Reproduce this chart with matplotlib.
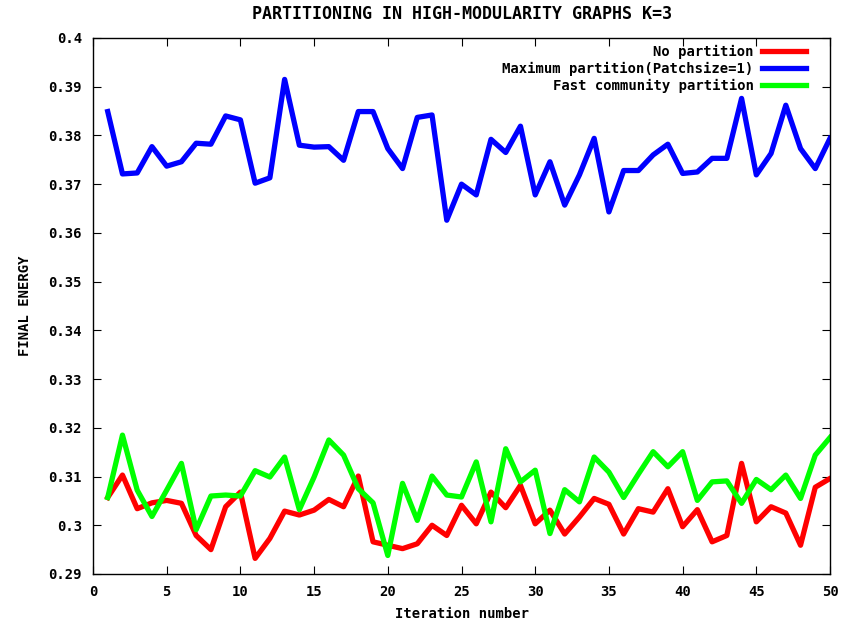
import numpy as np
import matplotlib
matplotlib.use('Agg')
import matplotlib.pyplot as plt
from matplotlib.ticker import FuncFormatter

# --- Data ---
iterations = np.arange(1, 51)

no_partition = [0.3057, 0.3103, 0.3034, 0.3046, 0.3051, 0.3045, 0.2979, 0.2950, 0.3038, 0.3068,
                0.2932, 0.2973, 0.3029, 0.3021, 0.3031, 0.3053, 0.3038, 0.3101, 0.2966, 0.2959,
                0.2952, 0.2962, 0.3000, 0.2979, 0.3041, 0.3003, 0.3068, 0.3036, 0.3082, 0.3003,
                0.3031, 0.2982, 0.3017, 0.3055, 0.3043, 0.2982, 0.3034, 0.3027, 0.3075, 0.2997,
                0.3032, 0.2966, 0.2979, 0.3127, 0.3007, 0.3038, 0.3025, 0.2959, 0.3078, 0.3096]

max_partition = [0.3849, 0.3721, 0.3723, 0.3777, 0.3737, 0.3746, 0.3784, 0.3782, 0.3840, 0.3832,
                 0.3702, 0.3713, 0.3915, 0.3780, 0.3776, 0.3777, 0.3749, 0.3849, 0.3849, 0.3773,
                 0.3732, 0.3837, 0.3842, 0.3626, 0.3700, 0.3678, 0.3792, 0.3765, 0.3819, 0.3678,
                 0.3746, 0.3657, 0.3719, 0.3794, 0.3643, 0.3728, 0.3728, 0.3760, 0.3782, 0.3722,
                 0.3725, 0.3753, 0.3753, 0.3876, 0.3719, 0.3763, 0.3862, 0.3773, 0.3732, 0.3794]

fast_community = [0.3057, 0.3185, 0.3072, 0.3018, 0.3072, 0.3127, 0.2991, 0.3060, 0.3062, 0.3060,
                  0.3112, 0.3099, 0.3140, 0.3032, 0.3099, 0.3175, 0.3144, 0.3075, 0.3046, 0.2938,
                  0.3086, 0.3010, 0.3101, 0.3062, 0.3058, 0.3130, 0.3007, 0.3157, 0.3089, 0.3113,
                  0.2983, 0.3073, 0.3048, 0.3140, 0.3109, 0.3057, 0.3105, 0.3151, 0.3120, 0.3151,
                  0.3051, 0.3089, 0.3091, 0.3045, 0.3094, 0.3073, 0.3103, 0.3055, 0.3144, 0.3180]

font = {'family': 'DejaVu Sans Mono', 'weight': 'bold', 'size': 10}
plt.rc('font', **font)
plt.rc('axes', titleweight='bold', labelweight='bold')

fig = plt.figure(figsize=(8.43, 6.32), dpi=100)
ax = fig.add_axes([0.1103, 0.0918, 0.8743, 0.8481])

ax.plot(iterations, no_partition, color='#ff0000', linewidth=3.8, label='No partition')
ax.plot(iterations, max_partition, color='#0000ff', linewidth=3.8, label='Maximum partition(Patchsize=1)')
ax.plot(iterations, fast_community, color='#00ff00', linewidth=3.8, label='Fast community partition')

ax.set_xlim(0, 50)
ax.set_ylim(0.29, 0.4)
ax.set_xticks(np.arange(0, 51, 5))
ax.set_yticks(np.arange(0.29, 0.4001, 0.01))
ax.yaxis.set_major_formatter(FuncFormatter(lambda v, p: '%g' % round(v, 2)))
ax.tick_params(direction='in', length=6, width=0.8, top=True, right=True, pad=8)
for s in ax.spines.values():
    s.set_linewidth(1.0)

ax.set_title('PARTITIONING IN HIGH-MODULARITY GRAPHS K=3', pad=14)
ax.set_xlabel('Iteration number', labelpad=6)
ax.set_ylabel('FINAL ENERGY', labelpad=12)

ax.legend(loc='upper right', bbox_to_anchor=(0.985, 1.01), frameon=False, markerfirst=False,
          handlelength=3.2, labelspacing=0.2, handletextpad=0.6)

fig.savefig('out.png', dpi=100)
